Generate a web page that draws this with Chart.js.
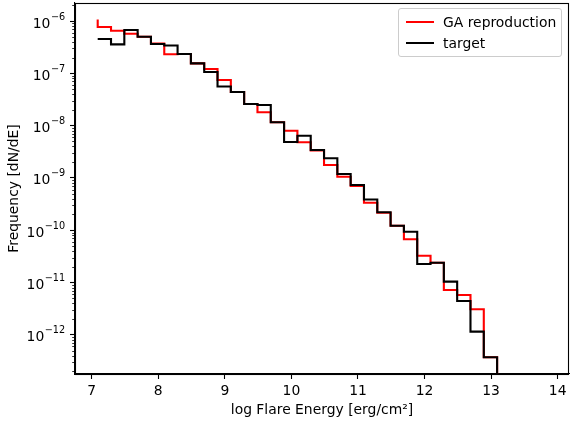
<!DOCTYPE html>
<html>
<head>
<meta charset="utf-8">
<script src="https://cdn.jsdelivr.net/npm/chart.js@4/dist/chart.umd.min.js"></script>
<style>
  body { margin: 0; background: #fff; }
  #wrap { position: relative; width: 572px; height: 423px; }
  #legend {
    position: absolute; left: 398px; top: 8px; width: 164px; height: 49px;
    border: 1px solid #cccccc; border-radius: 3px; background: rgba(255,255,255,0.8);
    font-family: "DejaVu Sans", sans-serif; font-size: 13.9px; color: #000;
    box-sizing: border-box;
  }
  .row { position: absolute; left: 7px; height: 16px; display: flex; align-items: center; }
  .swatch { width: 28px; height: 2px; margin-right: 9px; }
</style>
</head>
<body>
<div id="wrap">
  <canvas id="histChart" width="572" height="423"></canvas>
  <div id="legend">
    <div class="row" style="top:5px"><span class="swatch" style="background:#ff0000"></span>GA reproduction</div>
    <div class="row" style="top:26px"><span class="swatch" style="background:#000000"></span>target</div>
  </div>
</div>
<script>
// bin edges of the flare energy histogram (log erg/cm^2)
const binEdges = [7.09, 7.29, 7.49, 7.69, 7.89, 8.09, 8.29, 8.49, 8.69, 8.89,
  9.09, 9.29, 9.49, 9.69, 9.89, 10.09, 10.29, 10.49, 10.69, 10.89,
  11.09, 11.29, 11.49, 11.69, 11.89, 12.09, 12.29, 12.49, 12.69, 12.89, 13.09];

// first point of each step line (drawn at the left edge)
const gaStart = 1.07e-6;
const targetStart = 4.53e-7;

const gaValues = [7.68e-7, 6.53e-7, 5.71e-7, 5.01e-7, 3.72e-7, 2.32e-7, 2.34e-7, 1.55e-7, 1.21e-7, 7.44e-8,
  4.39e-8, 2.59e-8, 1.80e-8, 1.16e-8, 7.98e-9, 4.80e-9, 3.34e-9, 1.77e-9, 1.05e-9, 7.0e-10,
  3.34e-10, 2.15e-10, 1.22e-10, 6.70e-11, 3.25e-11, 2.39e-11, 7.19e-12, 5.77e-12, 3.07e-12, 3.72e-13];

const targetValues = [4.53e-7, 3.58e-7, 6.73e-7, 5.01e-7, 3.63e-7, 3.40e-7, 2.34e-7, 1.55e-7, 1.06e-7, 5.60e-8,
  4.39e-8, 2.59e-8, 2.48e-8, 1.16e-8, 4.86e-9, 6.41e-9, 3.41e-9, 2.37e-9, 1.19e-9, 7.31e-10,
  3.86e-10, 2.20e-10, 1.22e-10, 9.35e-11, 2.26e-11, 2.39e-11, 1.04e-11, 4.43e-12, 1.15e-12, 3.72e-13];

const xTicks = [7, 8, 9, 10, 11, 12, 13, 14];
const yTickExponents = [-12, -11, -10, -9, -8, -7, -6];

// step points: value of bin k sits at its right edge, stepped 'after'
const stepPoints = (start, values) => {
  const pts = [{ x: binEdges[0], y: start }];
  values.forEach((v, i) => pts.push({ x: binEdges[i + 1], y: v }));
  pts.push({ x: binEdges[binEdges.length - 1], y: 1e-20 }); // drop off the bottom
  return pts;
};

const FONT = { family: 'DejaVu Sans', size: 13.9 };

const framePlugin = {
  id: 'frame',
  afterDraw(chart) {
    const { ctx, chartArea: a, scales } = chart;
    ctx.save();
    ctx.strokeStyle = '#000';
    ctx.lineWidth = 1.1;
    ctx.strokeRect(Math.round(a.left) + 0.5, Math.round(a.top) + 0.5,
      Math.round(a.right - a.left) - 1, Math.round(a.bottom - a.top));
    const y = scales.y;
    // minor log ticks on the y axis
    ctx.lineWidth = 0.8;
    for (let e = -14; e <= -5; e++) {
      for (let m = 2; m <= 9; m++) {
        const v = m * Math.pow(10, e);
        if (v < y.min || v > y.max) continue;
        const py = Math.round(y.getPixelForValue(v)) + 0.5;
        ctx.beginPath();
        ctx.moveTo(a.left, py);
        ctx.lineTo(a.left - 2.8, py);
        ctx.stroke();
      }
    }
    // y tick labels as 10 with a raised exponent, like mathtext
    ctx.fillStyle = '#000';
    ctx.textBaseline = 'alphabetic';
    y.ticks.forEach(t => {
      const e = Math.round(Math.log10(t.value));
      const py = y.getPixelForValue(t.value);
      const right = a.left - 5 - 4.8;
      ctx.font = '9.7px "DejaVu Sans"';
      const expText = '\u2212' + Math.abs(e);
      const ew = ctx.measureText(expText).width;
      ctx.textAlign = 'right';
      ctx.fillText(expText, right, py - 1.5);
      ctx.font = '13.9px "DejaVu Sans"';
      ctx.fillText('10', right - ew - 0.5, py + 6.5);
    });
    ctx.restore();
  }
};

const ctx = document.getElementById('histChart').getContext('2d');
new Chart(ctx, {
  type: 'line',
  data: {
    datasets: [
      {
        label: 'target',
        data: stepPoints(targetStart, targetValues),
        borderColor: '#000000',
        borderWidth: 2.1,
        stepped: 'after',
        pointRadius: 0,
        fill: false
      },
      {
        label: 'GA reproduction',
        data: stepPoints(gaStart, gaValues),
        borderColor: '#ff0000',
        borderWidth: 2.1,
        stepped: 'after',
        pointRadius: 0,
        fill: false
      }
    ]
  },
  options: {
    responsive: false,
    animation: false,
    layout: { padding: { top: 3, right: 3, left: 0, bottom: 0 } },
    plugins: { legend: { display: false }, tooltip: { enabled: false } },
    scales: {
      x: {
        type: 'linear',
        min: 6.749,
        max: 14.17,
        afterFit: (s) => { s.height = 49; s.paddingLeft = 0; s.paddingRight = 0; },
        afterBuildTicks: (s) => { s.ticks = xTicks.map(v => ({ value: v })); },
        ticks: { color: '#000', font: FONT, padding: 4, maxRotation: 0, autoSkip: false },
        grid: { drawOnChartArea: false, tickLength: 5, tickColor: '#000', tickWidth: 1.1 },
        border: { color: '#000', width: 1.1 },
        title: { display: true, text: 'log Flare Energy [erg/cm\u00B2]', color: '#000', font: FONT, padding: { top: 0, bottom: 4.5 } }
      },
      y: {
        type: 'logarithmic',
        min: 1.78e-13,
        max: 2.21e-6,
        afterFit: (s) => { s.width = 75; s.paddingTop = 0; s.paddingBottom = 0; },
        afterBuildTicks: (s) => { s.ticks = yTickExponents.map(e => ({ value: Math.pow(10, e), major: true })); },
        ticks: { display: false, autoSkip: false },
        grid: { drawOnChartArea: false, tickLength: 5, tickColor: '#000', tickWidth: 1.1 },
        border: { color: '#000', width: 1.1 },
        title: { display: true, text: 'Frequency [dN/dE]', color: '#000', font: FONT, padding: { top: 6, bottom: 0 } }
      }
    }
  },
  plugins: [framePlugin]
});
</script>
</body>
</html>
